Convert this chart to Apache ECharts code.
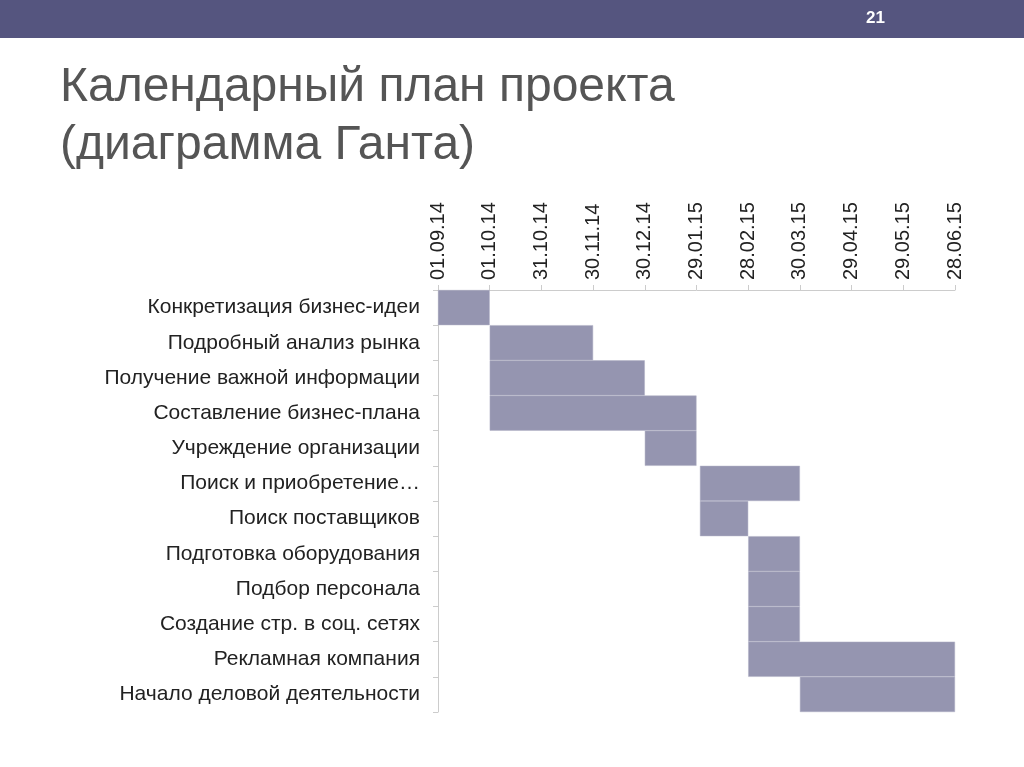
<!DOCTYPE html>
<html>
<head>
<meta charset="utf-8">
<title>Календарный план проекта</title>
<script src="https://cdn.jsdelivr.net/npm/echarts@6/dist/echarts.min.js"></script>
<style>html,body{margin:0;padding:0;background:#fff}</style>
</head>
<body>
<div id="main" style="width:1024px;height:767px"></div>
<script>
// tasks and their start / end, in days from 01.09.14
var tasks = ['Конкретизация бизнес-идеи', 'Подробный анализ рынка', 'Получение важной информации',
    'Составление бизнес-плана', 'Учреждение организации', 'Поиск и приобретение…',
    'Поиск поставщиков', 'Подготовка оборудования', 'Подбор персонала',
    'Создание стр. в соц. сетях', 'Рекламная компания', 'Начало деловой деятельности'];
var startDays = [0, 30, 30, 30, 120, 152, 152, 180, 180, 180, 180, 210];
var endDays = [30, 90, 120, 150, 150, 210, 180, 210, 210, 210, 300, 300];
var tickLabels = ['01.09.14', '01.10.14', '31.10.14', '30.11.14', '30.12.14', '29.01.15',
    '28.02.15', '30.03.15', '29.04.15', '29.05.15', '28.06.15'];

var durations = endDays.map(function (e, i) { return e - startDays[i]; });

var myChart = echarts.init(document.getElementById('main'));

var option = {
    animation: false,
    graphic: [
        { type: 'rect', shape: { x: 0, y: 0, width: 1024, height: 38 }, style: { fill: '#55557f' } },
        { type: 'text', left: 866, top: 10, style: { text: '21', fill: '#fff', font: 'bold 17px Arial' } },
        { type: 'text', left: 60, top: 64, style: { text: 'Календарный план проекта', fill: '#555', font: '48px "Liberation Sans", Arial' } },
        { type: 'text', left: 60, top: 122, style: { text: '(диаграмма Ганта)', fill: '#555', font: '48px "Liberation Sans", Arial' } }
    ],
    grid: { left: 438, right: 69, top: 290, bottom: 55 },
    xAxis: {
        type: 'value',
        position: 'top',
        min: 0,
        max: 300,
        interval: 30,
        axisLine: { show: true, lineStyle: { color: '#ccc' } },
        axisTick: { show: true, length: 5, lineStyle: { color: '#ccc' } },
        splitLine: { show: false },
        axisLabel: {
            rotate: -90,
            fontSize: 20,
            color: '#222',
            fontFamily: 'Liberation Sans',
            margin: 10,
            formatter: function (v) { return tickLabels[Math.round(v / 30)]; }
        }
    },
    yAxis: {
        type: 'category',
        data: tasks,
        inverse: true,
        axisLine: { show: true, lineStyle: { color: '#ccc' } },
        axisTick: { show: true, length: 5, lineStyle: { color: '#ccc' } },
        axisLabel: { fontSize: 21, color: '#222', fontFamily: 'Liberation Sans', margin: 18 }
    },
    series: [
        {
            type: 'bar', stack: 'g', data: startDays, barCategoryGap: 0,
            itemStyle: { color: 'transparent' }, silent: true
        },
        {
            type: 'bar', stack: 'g', data: durations, barCategoryGap: 0,
            itemStyle: { color: '#9595b0', borderColor: '#b0b0c4', borderWidth: 0.5 }
        }
    ]
};

myChart.setOption(option);
</script>
</body>
</html>
